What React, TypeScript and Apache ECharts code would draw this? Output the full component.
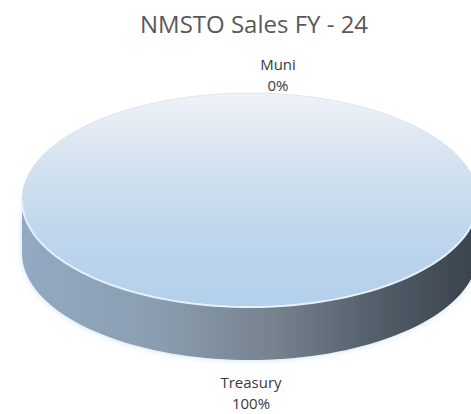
import React, { useEffect, useRef } from "react";
import * as echarts from "echarts";

const chartTitle = "NMSTO Sales FY - 24";
const categories = ["Treasury", "Muni"];
const values = [100, 0];

export default function App() {
  const ref = useRef<HTMLDivElement>(null);

  useEffect(() => {
    document.body.style.margin = "0";
    const chart = echarts.init(ref.current!, null, { renderer: "svg" });
    const total = values.reduce((a, b) => a + b, 0);
    const cx = 250, cy = 200, rx = 228, ry = 107, depth = 53;

    const topGrad = new echarts.graphic.LinearGradient(0, 0, 0, 1, [
      { offset: 0, color: "#f0f3f8" },
      { offset: 0.3, color: "#d6e3f0" },
      { offset: 0.65, color: "#bfd6ed" },
      { offset: 1, color: "#b3cfeb" },
    ]);
    const sideGrad = new echarts.graphic.LinearGradient(cx - rx, 0, cx + rx, 0, [
      { offset: 0, color: "#91aac2" },
      { offset: 0.3, color: "#8b9db0" },
      { offset: 0.55, color: "#76828e" },
      { offset: 0.8, color: "#505b66" },
      { offset: 1, color: "#39424b" },
    ], true);

    const renderItem = (params: any, api: any) => {
      const i = params.dataIndex;
      const v = api.value(0);
      let cum = 0;
      for (let k = 0; k < i; k++) cum += values[k];
      const a0 = -Math.PI / 2 + (2 * Math.PI * cum) / total;
      const a1 = a0 + (2 * Math.PI * v) / total;
      const children: any[] = [];
      const rims: number[][][] = [];
      const ranges = [[0, Math.PI], [2 * Math.PI, 3 * Math.PI]];
      if (v > 0) {
        for (const [r0, r1] of ranges) {
          const s = Math.max(a0, r0), e = Math.min(a1, r1);
          if (e <= s) continue;
          const n = 80;
          const pts: number[][] = [];
          const rim: number[][] = [];
          for (let j = 0; j <= n; j++) {
            const t = s + ((e - s) * j) / n;
            pts.push([cx + rx * Math.cos(t), cy + ry * Math.sin(t)]);
            rim.push([cx + rx * Math.cos(t), cy + ry * Math.sin(t)]);
          }
          for (let j = n; j >= 0; j--) {
            const t = s + ((e - s) * j) / n;
            pts.push([cx + rx * Math.cos(t), cy + depth + ry * Math.sin(t)]);
          }
          children.push({
            type: "polygon",
            shape: { points: pts },
            style: { fill: sideGrad, shadowBlur: 6, shadowColor: "rgba(170,205,235,0.6)" },
          });
          rims.push(rim);
        }
        children.push({
          type: "group",
          x: cx,
          y: cy,
          scaleY: ry / rx,
          children: [
            {
              type: "sector",
              shape: { cx: 0, cy: 0, r: rx, r0: 0, startAngle: a0, endAngle: a1, clockwise: true },
              style: { fill: topGrad, stroke: "#d3dde8", lineWidth: 1, strokeNoScale: true },
            },
          ],
        });
        for (const r of rims) {
          children.push({
            type: "polyline",
            shape: { points: r },
            style: { stroke: "#e3f1fc", lineWidth: 2, fill: "none" },
          });
        }
      }
      const mid = (a0 + a1) / 2;
      const sn = Math.sin(mid);
      let px = cx + rx * Math.cos(mid);
      let py = cy + ry * sn;
      const pct = Math.round((v / total) * 100);
      const below = sn > 0;
      if (below) py += depth + 11;
      else { py += 2; px += 28; }
      children.push({
        type: "text",
        x: below ? px + 1 : px,
        y: py,
        style: {
          text: `${categories[i]}\n${pct}%`,
          fill: "#3a3a3a",
          font: '15px "Open Sans"',
          lineHeight: 21,
          align: "center",
          verticalAlign: below ? "top" : "bottom",
        },
      });
      return { type: "group", children };
    };

    chart.setOption({
      animation: false,
      backgroundColor: "#ffffff",
      title: {
        text: chartTitle,
        left: 135,
        top: 6,
        textStyle: { fontFamily: "Open Sans", fontSize: 24, fontWeight: "normal", color: "#595959" },
      },
      series: [
        {
          type: "custom",
          coordinateSystem: "none",
          silent: true,
          renderItem,
          data: categories.map((c, i) => ({ name: c, value: values[i] })),
        },
      ],
    });
    return () => chart.dispose();
  }, []);

  return <div ref={ref} style={{ width: 471, height: 414 }} />;
}
